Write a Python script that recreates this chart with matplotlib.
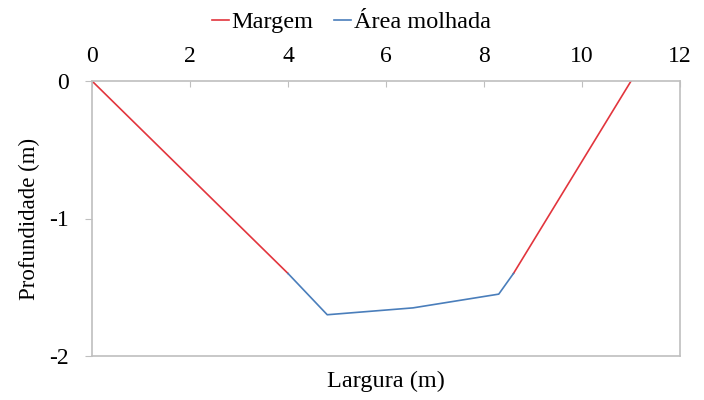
import matplotlib
matplotlib.use("Agg")
import matplotlib.pyplot as plt

# Channel cross-section profile
margem_esq_x = [0, 4.0]
margem_esq_y = [0, -1.40]
margem_dir_x = [8.6, 11.0]
margem_dir_y = [-1.40, 0]
molhada_x = [4.0, 4.8, 6.55, 8.3, 8.6]
molhada_y = [-1.40, -1.70, -1.65, -1.55, -1.40]

x_ticks = [0, 2, 4, 6, 8, 10, 12]
y_ticks = [0, -1, -2]

plt.rcParams['font.family'] = ['Liberation Serif', 'DejaVu Serif']

red = '#e2353d'
blue = '#4a7ebb'
grey = '#bfbfbf'

fig = plt.figure(figsize=(7.04, 4.0), dpi=100)
ax = fig.add_axes([0.1307, 0.11, 0.966 - 0.1307, 0.7975 - 0.11])

l1, = ax.plot(margem_esq_x, margem_esq_y, color=red, lw=1.2, label='Margem')
ax.plot(margem_dir_x, margem_dir_y, color=red, lw=1.2)
l2, = ax.plot(molhada_x, molhada_y, color=blue, lw=1.2, label='Área molhada')

ax.set_xlim(0, 12)
ax.set_ylim(-2, 0)
ax.set_xticks(x_ticks)
ax.set_yticks(y_ticks)
ax.set_yticklabels([str(v) for v in y_ticks])

ax.xaxis.tick_top()
ax.tick_params(axis='x', direction='in', length=4, width=0.8, color=grey,
               labelsize=17, pad=10)
ax.tick_params(axis='y', direction='out', length=5, width=0.8, color=grey,
               labelsize=17, pad=12)
ax.tick_params(axis='y', which='both', right=False)

for s in ax.spines.values():
    s.set_color(grey)
    s.set_linewidth(1.2)

ax.set_xlabel('Largura (m)', fontsize=17.5, labelpad=11)
ax.xaxis.set_label_position('bottom')
ax.set_ylabel('Profundidade (m)', fontsize=16.5, labelpad=6)

fig.legend(handles=[l1, l2], loc='center', bbox_to_anchor=(0.499, 0.945),
           ncol=2, frameon=False, fontsize=17.5, handlelength=0.7,
           handletextpad=0.1, columnspacing=0.85)

fig.savefig('out.png', dpi=100)
